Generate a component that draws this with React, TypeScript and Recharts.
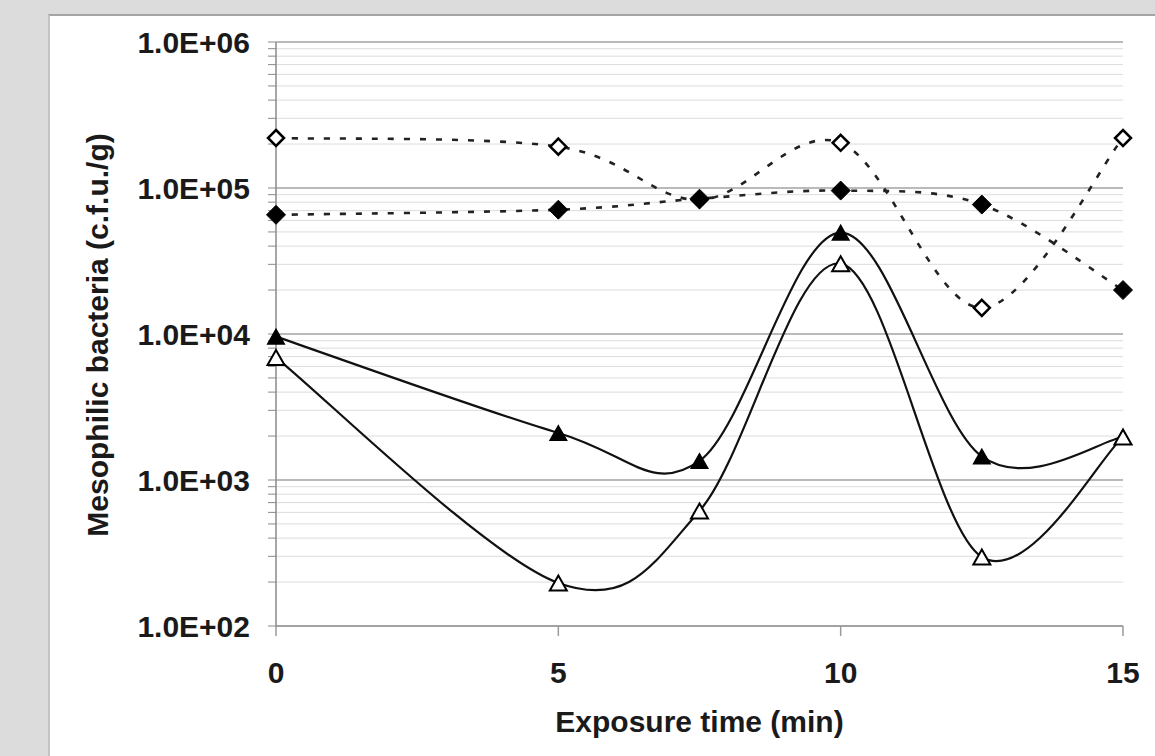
import React from 'react';
import { LineChart, Line, XAxis, YAxis, CartesianGrid, ReferenceLine } from 'recharts';

// exposure time (min)
const times = [0, 5, 7.5, 10, 12.5, 15];

// mesophilic bacteria counts (c.f.u./g)
const openDiamond = [2.2e5, 1.92e5, 8.3e4, 2.04e5, 1.51e4, 2.2e5];
const filledDiamond = [6.55e4, 7.1e4, 8.45e4, 9.6e4, 7.7e4, 2.0e4];
const filledTriangle = [9.6e3, 2.1e3, 1.35e3, 4.95e4, 1.45e3, 1.97e3];
const openTriangle = [6.9e3, 197, 614, 3.03e4, 297, 1.97e3];

const xTicks = [0, 5, 10, 15];
const decades = [100, 1000, 10000, 100000, 1000000];
const decadeLabels = ['1.0E+02', '1.0E+03', '1.0E+04', '1.0E+05', '1.0E+06'];
const minorSteps = [2, 3, 4, 5, 6, 7, 8, 9];

const yTicks: number[] = [];
decades.forEach((d, i) => {
  yTicks.push(d);
  if (i < decades.length - 1) minorSteps.forEach((m) => yTicks.push(d * m));
});

const data = times.map((t, i) => ({
  t,
  openDiamond: openDiamond[i],
  filledDiamond: filledDiamond[i],
  filledTriangle: filledTriangle[i],
  openTriangle: openTriangle[i],
}));

// Excel-style smoothed line (Catmull-Rom bezier)
const excelCurve = (ctx: any) => {
  let pts: number[][] = [];
  return {
    areaStart() {},
    areaEnd() {},
    lineStart() {
      pts = [];
    },
    point(x: number, y: number) {
      pts.push([+x, +y]);
    },
    lineEnd() {
      if (!pts.length) return;
      ctx.moveTo(pts[0][0], pts[0][1]);
      for (let i = 0; i < pts.length - 1; i++) {
        const p0 = pts[i - 1] || pts[i];
        const p1 = pts[i];
        const p2 = pts[i + 1];
        const p3 = pts[i + 2] || p2;
        ctx.bezierCurveTo(
          p1[0] + (p2[0] - p0[0]) / 6,
          p1[1] + (p2[1] - p0[1]) / 6,
          p2[0] - (p3[0] - p1[0]) / 6,
          p2[1] - (p3[1] - p1[1]) / 6,
          p2[0],
          p2[1]
        );
      }
    },
  };
};

const font = '"Liberation Sans", Arial, sans-serif';
const ink = '#1a1a1a';

const Diamond = ({ cx, cy, filled }: any) => {
  if (cx == null || cy == null) return null;
  const r = filled ? 9.5 : 8;
  return (
    <polygon
      points={`${cx},${cy - r} ${cx + r},${cy} ${cx},${cy + r} ${cx - r},${cy}`}
      fill={filled ? '#000' : '#fff'}
      stroke="#000"
      strokeWidth={filled ? 1 : 2.5}
    />
  );
};

const Triangle = ({ cx, cy, filled }: any) => {
  if (cx == null || cy == null) return null;
  const w = 17;
  const h = 15;
  return (
    <polygon
      points={`${cx},${cy - h / 2} ${cx + w / 2},${cy + h / 2} ${cx - w / 2},${cy + h / 2}`}
      fill={filled ? '#000' : '#fff'}
      stroke="#000"
      strokeWidth={filled ? 1.2 : 2}
      strokeLinejoin="miter"
    />
  );
};

const yTickFormat = (v: number) => {
  const i = decades.indexOf(v);
  return i >= 0 ? decadeLabels[i] : '';
};

const YTitle = (props: any) => {
  const vb = props.viewBox || {};
  const x = vb.x + 58;
  const y = vb.y + vb.height / 2 + 1;
  return (
    <text
      x={x}
      y={y}
      transform={`rotate(-90 ${x} ${y})`}
      textAnchor="middle"
      fontFamily={font}
      fontWeight="bold"
      fontSize={30}
      fill={ink}
    >
      Mesophilic bacteria (c.f.u./g)
    </text>
  );
};

const XTitle = (props: any) => {
  const vb = props.viewBox || {};
  return (
    <text
      x={vb.x + vb.width / 2}
      y={vb.y + 106}
      textAnchor="middle"
      fontFamily={font}
      fontWeight="bold"
      fontSize={30}
      fill={ink}
    >
      Exposure time (min)
    </text>
  );
};

export default function App() {
  const tickStyle = { fontFamily: font, fontWeight: 'bold', fontSize: 30, fill: ink };

  return (
    <div
      style={{
        position: 'fixed',
        left: 0,
        top: 0,
        width: 1155,
        height: 756,
        background: '#dcdcdc',
        overflow: 'hidden',
      }}
    >
      <style>{'html, body { margin: 0; overflow: hidden; }'}</style>
      <div
        style={{
          position: 'absolute',
          left: 48,
          top: 14,
          width: 1107,
          height: 742,
          background: '#fff',
          borderTop: '2px solid #a4a4a4',
          borderLeft: '2px solid #c4c4c4',
        }}
      >
        <LineChart width={1105} height={740} data={data} margin={{ top: 26, right: 32, bottom: 0, left: 0 }}>
          <CartesianGrid vertical={false} stroke="#dcdcdc" strokeWidth={1} />
          {decades.map((d) => (
            <ReferenceLine key={d} y={d} stroke="#a8a8a8" strokeWidth={1.5} />
          ))}
          <XAxis
            dataKey="t"
            type="number"
            domain={[0, 15]}
            ticks={xTicks}
            interval={0}
            height={130}
            tickSize={10}
            tickMargin={26}
            tick={tickStyle}
            axisLine={{ stroke: '#9a9a9a', strokeWidth: 1.5 }}
            tickLine={{ stroke: '#9a9a9a', strokeWidth: 1.5 }}
            label={{ content: XTitle }}
          />
          <YAxis
            type="number"
            scale="log"
            domain={[100, 1000000]}
            allowDataOverflow
            ticks={yTicks}
            interval={0}
            width={226}
            tickSize={8}
            tickMargin={18}
            tick={tickStyle}
            tickFormatter={yTickFormat}
            axisLine={{ stroke: '#8a8a8a', strokeWidth: 1.5 }}
            tickLine={{ stroke: '#8a8a8a', strokeWidth: 1 }}
            label={{ content: YTitle }}
          />
          <Line
            dataKey="filledTriangle"
            type={excelCurve as any}
            stroke="#111"
            strokeWidth={2.2}
            dot={(p: any) => <Triangle key={`ft${p.index}`} cx={p.cx} cy={p.cy} filled />}
            activeDot={false}
            isAnimationActive={false}
          />
          <Line
            dataKey="openTriangle"
            type={excelCurve as any}
            stroke="#111"
            strokeWidth={2.2}
            dot={(p: any) => <Triangle key={`ot${p.index}`} cx={p.cx} cy={p.cy} />}
            activeDot={false}
            isAnimationActive={false}
          />
          <Line
            dataKey="openDiamond"
            type={excelCurve as any}
            stroke="#222"
            strokeWidth={2.6}
            strokeDasharray="6 10"
            dot={(p: any) => <Diamond key={`od${p.index}`} cx={p.cx} cy={p.cy} />}
            activeDot={false}
            isAnimationActive={false}
          />
          <Line
            dataKey="filledDiamond"
            type={excelCurve as any}
            stroke="#222"
            strokeWidth={2.6}
            strokeDasharray="6 10"
            dot={(p: any) => <Diamond key={`fd${p.index}`} cx={p.cx} cy={p.cy} filled />}
            activeDot={false}
            isAnimationActive={false}
          />
        </LineChart>
      </div>
    </div>
  );
}
